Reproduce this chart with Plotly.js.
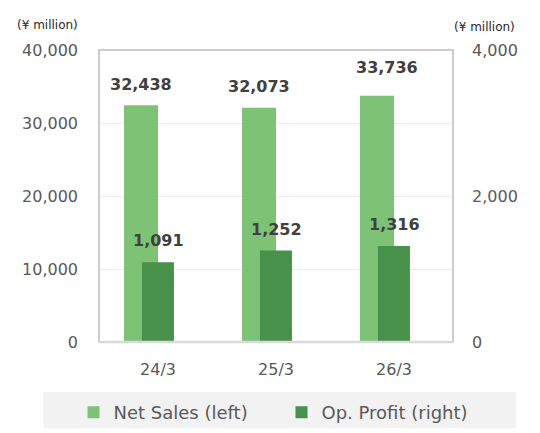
<!DOCTYPE html>
<html>
<head>
<meta charset="utf-8">
<script src="https://cdn.plot.ly/plotly-3.0.1.min.js"></script>
<style>html,body{margin:0;padding:0;background:#fff;}#chart{width:540px;height:433px;}</style>
</head>
<body>
<div id="chart"></div>
<script>
// ---- data ----
const categories = ['24/3', '25/3', '26/3'];
const netSales = [32438, 32073, 33736];   // left axis, ¥ million
const opProfit = [1091, 1252, 1316];      // right axis, ¥ million
const seriesNames = ['Net Sales (left)', 'Op. Profit (right)'];
const unitLabel = '(¥ million)';

// ---- style ----
const NS_COLOR = '#7dc275';
const OP_COLOR = '#48914a';
const FONT = 'DejaVu Sans, Verdana, sans-serif';
const TICK_COLOR = '#595959';
const LABEL_COLOR = '#404040';
// small per-label nudges (pixels) seen in the reference
const nsNudgeX = [0, 0, 10];
const nsNudgeY = [0, 0, -7];

const fmt = v => v.toLocaleString('en-US');

const traces = [
  {
    type: 'bar', name: seriesNames[0], x: categories, y: netSales,
    yaxis: 'y', marker: {color: NS_COLOR}, offset: -0.288, width: 0.288,
    hoverinfo: 'skip'
  },
  {
    type: 'bar', name: seriesNames[1], x: categories, y: opProfit,
    yaxis: 'y2', marker: {color: OP_COLOR}, offset: -0.136, width: 0.271,
    hoverinfo: 'skip'
  }
];

const annotations = [];
categories.forEach((c, i) => {
  annotations.push({
    x: c, y: netSales[i], xref: 'x', yref: 'y', text: fmt(netSales[i]),
    showarrow: false, xanchor: 'center', yanchor: 'middle',
    xshift: -17 + nsNudgeX[i], yshift: 21 - nsNudgeY[i],
    font: {family: FONT, size: 16, color: LABEL_COLOR, weight: 'bold'}
  });
  annotations.push({
    x: c, y: opProfit[i], xref: 'x', yref: 'y2', text: fmt(opProfit[i]),
    showarrow: false, xanchor: 'center', yanchor: 'middle',
    xshift: 0, yshift: 21.5,
    font: {family: FONT, size: 16, color: LABEL_COLOR, weight: 'bold'}
  });
});
annotations.push({
  xref: 'paper', yref: 'paper', x: -0.237, y: 1.0, yshift: 25, text: unitLabel,
  showarrow: false, xanchor: 'left', yanchor: 'middle',
  font: {family: FONT, size: 12, color: '#262626'}
});
annotations.push({
  xref: 'paper', yref: 'paper', x: 1.0, y: 1.0, xshift: -1, yshift: 23, text: unitLabel,
  showarrow: false, xanchor: 'left', yanchor: 'middle',
  font: {family: FONT, size: 12, color: '#262626'}
});

const layout = {
  width: 540, height: 433,
  margin: {l: 99, r: 87, t: 50, b: 91, autoexpand: false},
  paper_bgcolor: '#ffffff', plot_bgcolor: '#ffffff',
  barmode: 'overlay',
  showlegend: true,
  font: {family: FONT, color: TICK_COLOR},
  xaxis: {
    type: 'category', categoryorder: 'array', categoryarray: categories,
    showgrid: false, zeroline: false, ticks: '', showline: false,
    tickfont: {family: FONT, size: 16, color: TICK_COLOR},
    ticklabelstandoff: 16, fixedrange: true
  },
  yaxis: {
    range: [0, 40000], dtick: 10000, tickformat: ',d',
    showgrid: true, gridcolor: '#ececec', gridwidth: 1,
    zeroline: false, showline: false, ticks: '',
    tickfont: {family: FONT, size: 16, color: TICK_COLOR},
    ticklabelstandoff: 20, fixedrange: true
  },
  yaxis2: {
    overlaying: 'y', side: 'right',
    range: [0, 4000], dtick: 2000, tickformat: ',d',
    showgrid: false, zeroline: false, showline: false, ticks: '',
    tickfont: {family: FONT, size: 16, color: TICK_COLOR},
    ticklabelstandoff: 18, fixedrange: true
  },
  legend: {
    orientation: 'h', x: -0.072, xanchor: 'left', y: -0.178, yanchor: 'top',
    bgcolor: 'rgba(0,0,0,0)', font: {family: FONT, size: 18, color: TICK_COLOR},
    entrywidth: 163, traceorder: 'normal'
  },
  shapes: [
    {type: 'rect', xref: 'paper', yref: 'paper', x0: -0.157, x1: 1.177, y0: -0.171, y1: -0.2954,
     fillcolor: '#f2f2f2', line: {width: 0}, layer: 'below'},
    {type: 'rect', xref: 'paper', yref: 'paper', x0: 0, x1: 1, y0: 0, y1: 1,
     fillcolor: 'rgba(0,0,0,0)', line: {color: '#bfbfbf', width: 1.5}, layer: 'above'},
    {type: 'line', xref: 'paper', yref: 'paper', x0: 0, x1: 1, y0: 0, y1: 0,
     line: {color: '#d9d9d9', width: 2.5}, layer: 'above'}
  ],
  annotations: annotations
};

Plotly.newPlot('chart', traces, layout, {staticPlot: true, displayModeBar: false});
</script>
</body>
</html>
